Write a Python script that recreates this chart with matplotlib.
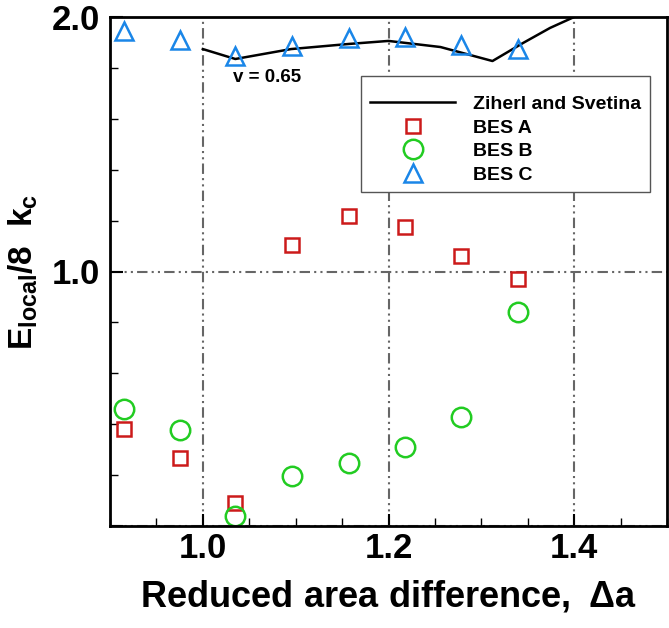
import numpy as np
import matplotlib
matplotlib.use('Agg')
import matplotlib.pyplot as plt
from matplotlib.ticker import MultipleLocator, FixedLocator

plt.rcParams['font.family'] = ['Liberation Sans', 'DejaVu Sans']
plt.rcParams['font.weight'] = 'bold'
plt.rcParams['mathtext.fontset'] = 'custom'
plt.rcParams['mathtext.rm'] = 'Liberation Sans'
plt.rcParams['mathtext.it'] = 'Liberation Sans:bold'
plt.rcParams['mathtext.bf'] = 'Liberation Sans:bold'

# data
x_pts = [0.915, 0.975, 1.035, 1.096, 1.157, 1.218, 1.278, 1.340]
bes_a = [0.381, 0.267, 0.090, 1.104, 1.218, 1.175, 1.061, 0.971]
bes_b = [0.460, 0.377, 0.040, 0.196, 0.248, 0.310, 0.428, 0.841]
bes_c = [1.945, 1.910, 1.847, 1.886, 1.917, 1.921, 1.890, 1.874]

zs_x = [1.000, 1.035, 1.095, 1.157, 1.200, 1.256, 1.312, 1.345, 1.374, 1.400, 1.420]
zs_y = [1.874, 1.835, 1.874, 1.894, 1.906, 1.882, 1.827, 1.898, 1.957, 2.000, 2.040]

fig = plt.figure(figsize=(6.69, 6.28), dpi=100)
ax = fig.add_axes([110/669, 1-526/628, 557/669, 509/628])

ax.plot(zs_x, zs_y, color='black', lw=1.8, label='Ziherl and Svetina')
ax.plot(x_pts, bes_a, ls='none', marker='s', ms=10, mfc='none', mec='#cc1a1a', mew=1.8, label='BES A')
ax.plot(x_pts, bes_b, ls='none', marker='o', ms=14, mfc='none', mec='#22cc22', mew=1.8, label='BES B')
ax.plot(x_pts, bes_c, ls='none', marker='^', ms=13, mfc='none', mec='#1a86e8', mew=1.8, label='BES C')

ax.text(1.033, 1.764, 'v = 0.65', fontsize=13.5, fontweight='bold', va='center', ha='left')

ax.set_xlim(0.9, 1.5)
ax.set_ylim(0.0, 2.0)
ax.xaxis.set_major_locator(FixedLocator([1.0, 1.2, 1.4]))
ax.xaxis.set_minor_locator(MultipleLocator(0.05))
ax.yaxis.set_major_locator(FixedLocator([0.0, 1.0, 2.0]))
ax.yaxis.set_minor_locator(MultipleLocator(0.2))
ax.set_yticklabels(['', '1.0', '2.0'])
ax.set_xticklabels(['1.0', '1.2', '1.4'])

ax.tick_params(which='both', direction='in', top=False, right=False, labelsize=25)
ax.tick_params(which='major', length=9, width=1.5)
ax.tick_params(which='minor', length=5.5, width=1.0)
ax.tick_params(axis='x', pad=4)
ax.tick_params(axis='y', pad=7)

ax.grid(True, which='major', color='#666666', lw=1.5, ls=(0, (5, 2, 1, 2, 1, 2)))

for s in ax.spines.values():
    s.set_linewidth(2.0)

ax.set_xlabel(r'$\bf{Reduced\ area\ difference,}\ \Delta\bf{a}$', fontsize=26, labelpad=10)
ax.set_ylabel(r'E$_{\bf local}$/8  k$_{\bf c}$', fontsize=24, fontweight='bold')
ax.yaxis.set_label_coords(-0.125, 0.5)

leg = ax.legend(loc='upper left', bbox_to_anchor=(361/669, 1-76/628), bbox_transform=fig.transFigure,
                fontsize=14, fancybox=False, framealpha=1, edgecolor='#555555',
                title=' ', title_fontsize=4,
                handlelength=4.4, borderpad=0.45, borderaxespad=0, labelspacing=0.3,
                handletextpad=0.9)
leg.get_frame().set_linewidth(1.0)

fig.savefig('out.png', dpi=100)
